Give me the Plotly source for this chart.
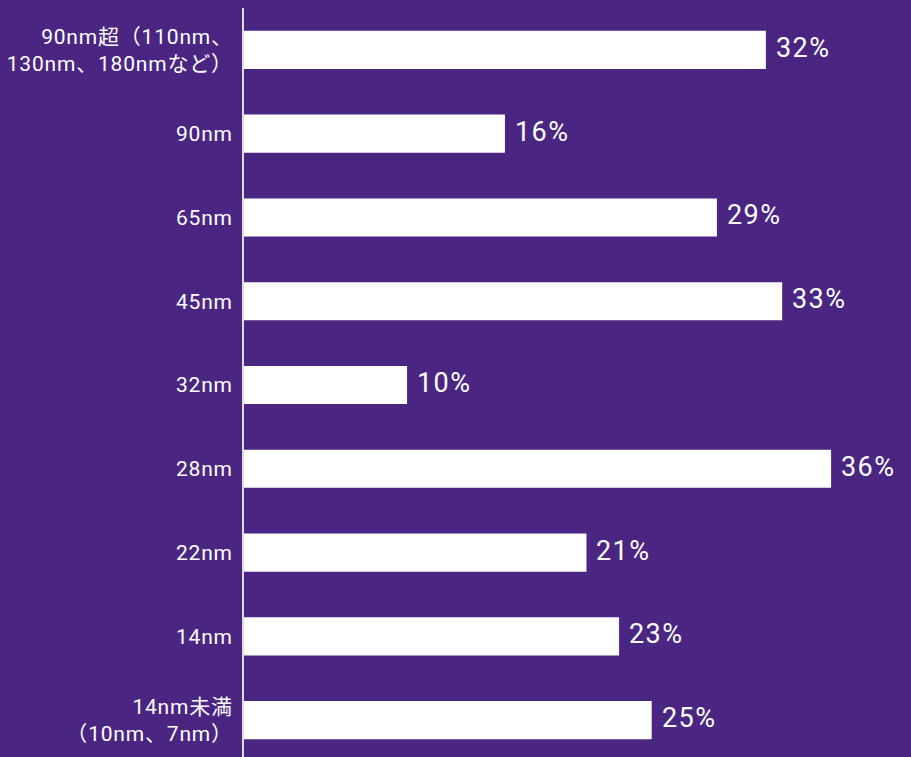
import plotly.graph_objects as go

categories = [
    "90nm超（110nm、<br>130nm、180nmなど）",
    "90nm",
    "65nm",
    "45nm",
    "32nm",
    "28nm",
    "22nm",
    "14nm",
    "14nm未満<br>（10nm、7nm）",
]
values = [32, 16, 29, 33, 10, 36, 21, 23, 25]
value_labels = [f"{v}%" for v in values]

BG = "#4A2682"
FONT = "Roboto, 'Noto Sans CJK JP', sans-serif"


def spaced(s, px):
    lines = s.split("<br>")
    return "<br>".join(
        f'<span style="letter-spacing:{px}px">{ln}</span>' for ln in lines
    )


tick_text = [spaced(c, 0.8) for c in categories]

fig = go.Figure(
    go.Bar(
        x=values,
        y=categories,
        orientation="h",
        marker=dict(color="white", line=dict(width=0)),
        width=0.455,
        hoverinfo="skip",
    )
)

for c, v, t in zip(categories, values, value_labels):
    fig.add_annotation(
        x=v, y=c, text=spaced(t, 1.4), showarrow=False, xanchor="left",
        yanchor="middle", xshift=8, yshift=2,
        font=dict(color="white", size=27, family=FONT),
    )

fig.update_layout(
    width=911,
    height=757,
    paper_bgcolor=BG,
    plot_bgcolor=BG,
    margin=dict(l=244, r=0, t=8, b=0, autoexpand=False),
    showlegend=False,
    bargap=0.55,
    font=dict(family=FONT, color="white"),
)
fig.update_xaxes(
    range=[0, 40.9], showgrid=False, zeroline=False, showticklabels=False,
    showline=False, fixedrange=True, automargin=False,
)
fig.update_yaxes(
    type="category",
    categoryorder="array",
    categoryarray=categories,
    tickvals=categories,
    ticktext=tick_text,
    range=[8.44, -0.5],
    showgrid=False,
    zeroline=False,
    showline=True,
    linecolor="#DDDDDD",
    linewidth=2,
    ticks="",
    automargin=False,
    ticklabelstandoff=5,
    tickfont=dict(size=21, color="white", family=FONT),
)

fig.write_html("out.html")
